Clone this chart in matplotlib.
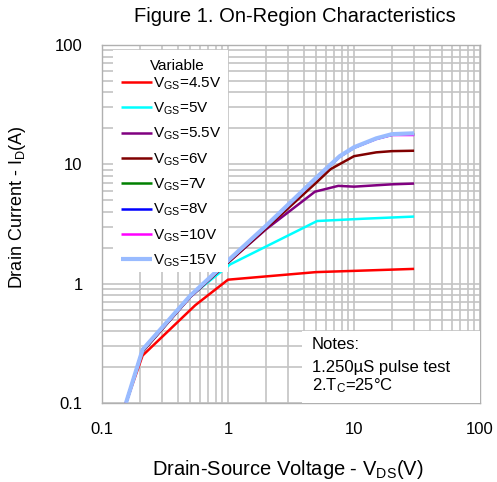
import numpy as np
import matplotlib
matplotlib.use('Agg')
import matplotlib.pyplot as plt
from matplotlib.patches import Rectangle

plt.rcParams['font.family'] = 'Liberation Sans'
plt.rcParams['mathtext.default'] = 'regular'

# Dati (VDS in V, ID in A)
vds_45 = [0.155, 0.21, 0.55, 1.0, 5.0, 10.0, 30.0]
id_45 = [0.1, 0.25, 0.66, 1.08, 1.25, 1.28, 1.33]

vds_5 = [0.155, 0.21, 0.5, 1.04, 5.1, 11.8, 30.0]
id_5 = [0.1, 0.27, 0.78, 1.45, 3.35, 3.5, 3.65]

vds_55 = [0.155, 0.21, 0.5, 1.0, 2.0, 4.9, 7.5, 10.0, 20.0, 30.0]
id_55 = [0.1, 0.27, 0.77, 1.5, 2.85, 5.9, 6.6, 6.5, 6.8, 6.9]

vds_6 = [0.155, 0.21, 0.5, 1.0, 2.0, 5.0, 6.5, 10.0, 15.0, 20.0, 30.0]
id_6 = [0.1, 0.27, 0.77, 1.5, 2.9, 7.0, 9.1, 11.7, 12.6, 12.9, 13.0]

vds_hi = [0.155, 0.21, 0.5, 1.0, 2.0, 5.0, 7.7, 10.0, 15.0, 20.0, 30.0]
id_7 = [0.1, 0.28, 0.78, 1.54, 3.0, 7.6, 11.6, 13.8, 16.4, 17.7, 17.9]
id_8 = [0.1, 0.28, 0.78, 1.54, 3.0, 7.6, 11.6, 13.8, 16.4, 17.7, 17.8]
id_10 = [0.1, 0.28, 0.78, 1.54, 3.0, 7.6, 11.6, 13.8, 16.3, 17.6, 17.6]
id_15 = [0.1, 0.28, 0.79, 1.56, 3.05, 7.7, 11.7, 13.9, 16.5, 17.9, 18.2]

labels = ['$V_{GS}$=4.5V', '$V_{GS}$=5V', '$V_{GS}$=5.5V', '$V_{GS}$=6V',
          '$V_{GS}$=7V', '$V_{GS}$=8V', '$V_{GS}$=10V', '$V_{GS}$=15V']
colors = ['#ff0000', '#00ffff', '#800080', '#800000',
          '#008000', '#0000ff', '#ff00ff', '#99bbff']

series = [(vds_45, id_45), (vds_5, id_5), (vds_55, id_55), (vds_6, id_6),
          (vds_hi, id_7), (vds_hi, id_8), (vds_hi, id_10), (vds_hi, id_15)]

fig = plt.figure(figsize=(4.97, 4.82), dpi=100)
ax = fig.add_axes([102/497, 79/482, 378/497, 358/482])

for (x, y), lab, col in zip(series, labels, colors):
    lw = 3.0 if col == '#99bbff' else 1.8
    ax.plot(x, y, color=col, lw=lw, label=lab, solid_capstyle='butt')

ax.set_xscale('log')
ax.set_yscale('log')
ax.set_xlim(0.1, 100)
ax.set_ylim(0.1, 100)
ax.grid(True, which='both', color='#c4c4c4', lw=1.2)
ax.set_axisbelow(True)
for s in ax.spines.values():
    s.set_color('#b0b0b0')
    s.set_linewidth(1.0)
ax.tick_params(which='both', length=0, labelsize=12, pad=14)
ax.set_xticks([0.1, 1, 10, 100])
ax.set_xticklabels(['0.1', '1', '10', '100'])
ax.set_yticks([0.1, 1, 10, 100])
ax.set_yticklabels(['0.1', '1', '10', '100'])

# Riquadro note
ax.add_patch(Rectangle((0.53, 0.0), 0.47, 0.2, transform=ax.transAxes,
                       facecolor='white', edgecolor='none', zorder=3))
ax.text(0.555, 0.163, 'Notes:', transform=ax.transAxes, fontsize=12, va='center', zorder=4)
ax.text(0.555, 0.10, '1.250µS pulse test', transform=ax.transAxes, fontsize=12, va='center', zorder=4)
ax.text(0.555, 0.048, '2.T$_C$=25°C', transform=ax.transAxes, fontsize=12, va='center', zorder=4)

# Riquadro legenda (bianco, senza bordo)
ax.add_patch(Rectangle((0.029, 0.366), 0.304, 0.62, transform=ax.transAxes,
                       facecolor='white', edgecolor='none', zorder=5))
ax.text(0.2, 0.94, 'Variable', transform=ax.transAxes, fontsize=11,
        ha='center', va='center', zorder=6)
leg = ax.legend(loc='upper left', bbox_to_anchor=(0.031, 0.936),
                fontsize=11, frameon=False,
                handlelength=2.0, handletextpad=0.1, labelspacing=0.58,
                borderpad=0.0)
leg.set_zorder(6)

fig.text(0.593, 0.966, 'Figure 1. On-Region Characteristics', ha='center', va='center', fontsize=14.5)
fig.text(0.58, 0.025, 'Drain-Source Voltage - $V_{DS}$(V)', ha='center', va='center', fontsize=14.5)
fig.text(0.035, 0.57, 'Drain Current - $I_D$(A)', ha='center', va='center',
         rotation=90, fontsize=13)

plt.savefig('out.png', dpi=100)
plt.close()
